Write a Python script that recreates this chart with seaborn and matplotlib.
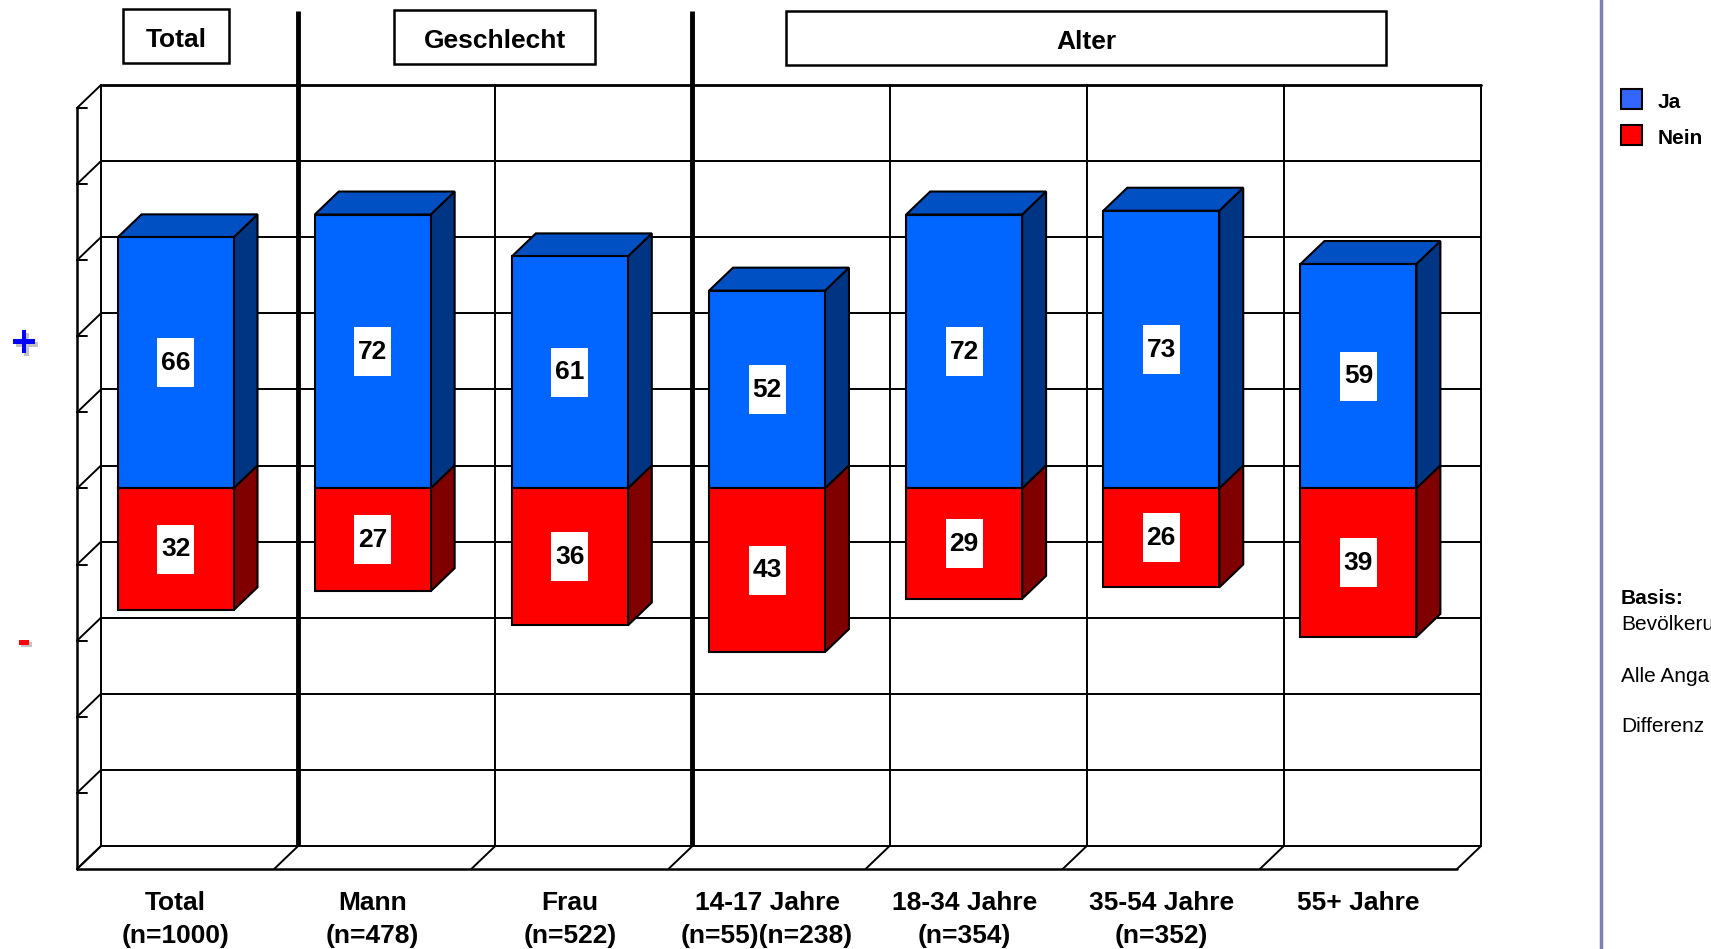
import numpy as np
import pandas as pd
import matplotlib
matplotlib.use('Agg')
import matplotlib.pyplot as plt
import matplotlib.patheffects as pe
from matplotlib.patches import Rectangle, Polygon
from matplotlib.lines import Line2D
import seaborn as sns

# Daten
kategorien = ['Total', 'Mann', 'Frau', '14-17 Jahre', '18-34 Jahre', '35-54 Jahre', '55+ Jahre']
tick_labels = ['Total\n(n=1000)', 'Mann\n(n=478)', 'Frau\n(n=522)', '14-17 Jahre\n(n=55)(n=238)',
               '18-34 Jahre\n(n=354)', '35-54 Jahre\n(n=352)', '55+ Jahre']
ja = [66, 72, 61, 52, 72, 73, 59]
nein = [32, 27, 36, 43, 29, 26, 39]
gruppen = ['Total', 'Geschlecht', 'Alter']
# rechte Leiste ist im Original am Bildrand abgeschnitten
basis_texte = ['Bevölkeru', 'Alle Anga', 'Differenz']

sns.set_style('white')
plt.rcParams['font.family'] = ['Liberation Sans', 'DejaVu Sans']
plt.rcParams['text.color'] = 'black'
plt.rcParams['xtick.color'] = 'black'

W, H = 1711, 949
DX, DY = 0.1216, 6.04          # 3D-Tiefe in Datenkoordinaten
BAR_W = 0.588

def fx(px):
    return px / W

def fy(py):
    return 1 - py / H

fig = plt.figure(figsize=(W / 100, H / 100), dpi=100)
ax = fig.add_axes([fx(77), fy(869), (1481 - 77) / W, (869 - 85) / H])

df = pd.DataFrame({'kategorie': kategorien, 'Ja': ja, 'Nein': [-v for v in nein]})

# Frontflaechen der Balken
sns.barplot(data=df, x='kategorie', y='Ja', color='#0066FF', saturation=1, width=BAR_W,
            errorbar=None, edgecolor='black', linewidth=1.5, ax=ax)
n_ja = len(ax.patches)
sns.barplot(data=df, x='kategorie', y='Nein', color='#FF0000', saturation=1, width=BAR_W,
            errorbar=None, edgecolor='black', linewidth=1.5, ax=ax)
ja_bars = ax.patches[:n_ja]
nein_bars = ax.patches[n_ja:]

for p in ax.patches:
    p.set_x(p.get_x() - DX)
    p.set_y(p.get_y() - DY)
    p.set_zorder(4)
    p.set_joinstyle('miter')

def box3d(p, top_col, side_col, with_top):
    x0 = p.get_x()
    x1 = x0 + p.get_width()
    ya, yb = p.get_y(), p.get_y() + p.get_height()
    lo, hi = min(ya, yb), max(ya, yb)
    side = Polygon([(x1, lo), (x1, hi), (x1 + DX, hi + DY), (x1 + DX, lo + DY)],
                   closed=True, fc=side_col, ec='black', lw=1.5, zorder=3, joinstyle='miter')
    ax.add_patch(side)
    if with_top:
        top = Polygon([(x0, hi), (x1, hi), (x1 + DX, hi + DY), (x0 + DX, hi + DY)],
                      closed=True, fc=top_col, ec='black', lw=1.5, zorder=3, joinstyle='miter')
        ax.add_patch(top)
    return (x0 + x1) / 2, (lo + hi) / 2

def wert_label(cx, cy, v):
    bw, bh = 37 / 197.1, 49 / 3.805
    ax.add_patch(Rectangle((cx - bw / 2, cy - bh / 2), bw, bh, fc='white', ec='none', zorder=5))
    ax.text(cx, cy, str(v), ha='center', va='center', fontsize=19, fontweight='bold',
            color='black', zorder=6)

for p, v in zip(ja_bars, ja):
    cx, cy = box3d(p, '#0050C4', '#003584', True)
    wert_label(cx, cy, v)
for p, v in zip(nein_bars, nein):
    cx, cy = box3d(p, '#C00000', '#800000', False)
    wert_label(cx, cy, v)

# Rueckwand, Boden, linke Wand
xl, xr = -0.5, len(kategorien) - 0.5
grid_y = np.arange(-100, 101, 20)
for y in grid_y:
    lw = 2 if y == 100 else 1.4
    ax.plot([xl, xr], [y, y], color='black', lw=lw, zorder=1, clip_on=False)
    ax.plot([xl, xl - DX], [y, y - DY], color='black', lw=1.4, zorder=1, clip_on=False)
    if -100 < y:
        ax.plot([xl - DX, xl - DX + 0.05], [y - DY, y - DY], color='black', lw=1.4, zorder=1, clip_on=False)
for k in range(len(kategorien) + 1):
    x = xl + k
    ax.plot([x, x], [-100, 100], color='black', lw=1.4, zorder=1, clip_on=False)
    ax.plot([x, x - DX], [-100, -100 - DY], color='black', lw=1.4, zorder=1, clip_on=False)
ax.plot([xl - DX, xl - DX], [100 - DY, -100 - DY], color='black', lw=1.8, zorder=1, clip_on=False)
ax.plot([xl - DX, xr - DX], [-100 - DY, -100 - DY], color='black', lw=1.8, zorder=1, clip_on=False)

# dicke Trennlinien der Gruppen
y_top = 100 + (85 - 11) / 3.805
for k in (1, 3):
    ax.plot([xl + k, xl + k], [-100, y_top], color='black', lw=3.5, zorder=2, clip_on=False,
            solid_capstyle='butt')

ax.set_xlim(xl - DX, xr)
ax.set_ylim(-100 - DY, 100)
ax.set_xticks(np.arange(len(kategorien)) - DX, tick_labels, fontsize=19, fontweight='bold',
              linespacing=1.45, color='black')
ax.set_yticks([])
ax.tick_params(axis='x', length=0, pad=16)
ax.set_xlabel('')
ax.set_ylabel('')
for s in ax.spines.values():
    s.set_visible(False)
ax.patch.set_visible(False)

# Gruppen-Kopfzeilen
boxes = [(123, 229, 9, 63), (394, 595, 10, 64), (786, 1386, 11, 65)]
for (x0, x1, y0, y1), name in zip(boxes, gruppen):
    fig.add_artist(Rectangle((fx(x0), fy(y1)), (x1 - x0) / W, (y1 - y0) / H,
                             transform=fig.transFigure, fill=False, ec='black', lw=1.8))
    fig.text(fx((x0 + x1) / 2), fy((y0 + y1) / 2 + 4), name, ha='center', va='center',
             fontsize=19, fontweight='bold')

# Plus / Minus links
shadow = [pe.SimplePatchShadow(offset=(2, -2), shadow_rgbFace='#888888', alpha=0.5), pe.Normal()]
fig.text(fx(24), fy(345), '+', ha='center', va='center', fontsize=32, fontweight='bold',
         color='#0000FF', path_effects=shadow)
fig.text(fx(24), fy(642), '-', ha='center', va='center', fontsize=30, fontweight='bold',
         color='#FF0000', path_effects=shadow)

# rechte Leiste
fig.add_artist(Line2D([fx(1601), fx(1601)], [0, 1], transform=fig.transFigure,
                      color='#7F7FB2', lw=2.5))
for (yy, col, lab) in [(89, '#3366FF', 'Ja'), (125, '#FF0000', 'Nein')]:
    fig.add_artist(Rectangle((fx(1621), fy(yy + 20)), 21 / W, 20 / H, transform=fig.transFigure,
                             fc=col, ec='black', lw=1.5))
    fig.text(fx(1658), fy(yy + 14), lab, ha='left', va='center', fontsize=15, fontweight='bold')

fig.text(fx(1621), fy(599), 'Basis:', ha='left', va='center', fontsize=15, fontweight='bold')
for yy, t in zip([624, 676, 726], basis_texte):
    fig.text(fx(1621), fy(yy), t, ha='left', va='center', fontsize=15)

fig.savefig('out.png', dpi=100)
